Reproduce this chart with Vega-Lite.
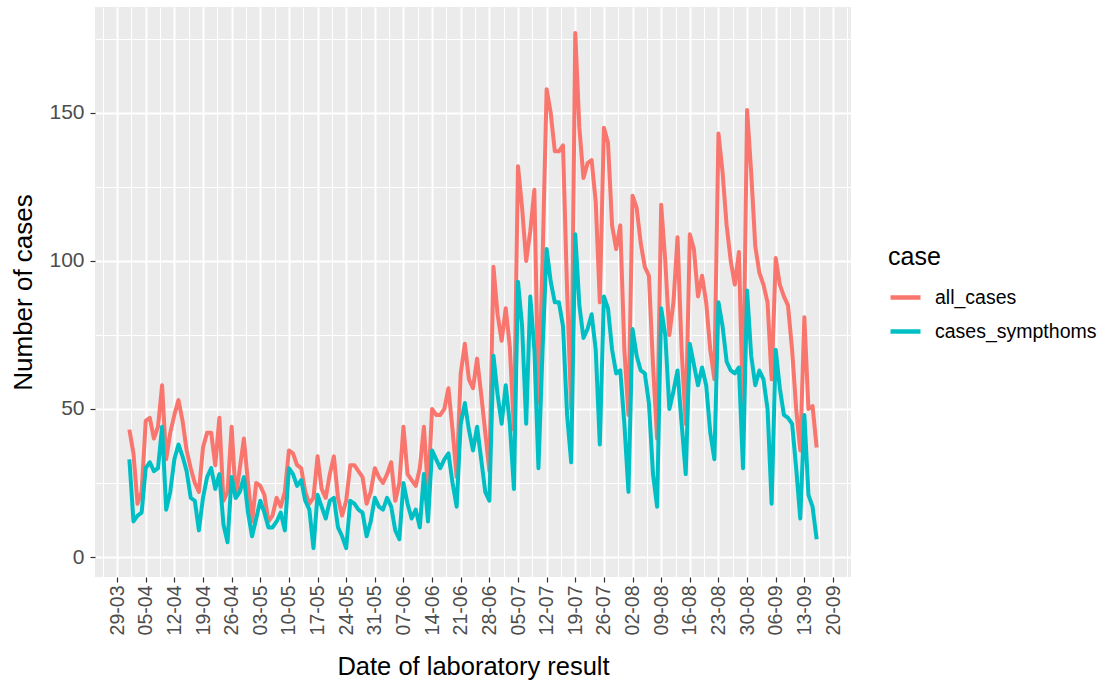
{
  "$schema": "https://vega.github.io/schema/vega-lite/v6.json",
  "width": 756,
  "height": 570,
  "autosize": "none",
  "padding": {"left": 95, "top": 7, "right": 265, "bottom": 114},
  "background": "white",
  "config": {
    "view": {"fill": "#EBEBEB", "stroke": null},
    "font": "Liberation Sans",
    "axis": {"domain": false, "gridColor": "white", "labelFont": "Liberation Sans", "titleFont": "Liberation Sans", "titleFontWeight": "normal", "titleColor": "black", "labelColor": "#4D4D4D", "tickColor": "#333333", "tickSize": 5, "tickWidth": 1.2}
  },
  "data": {"values": [
    {"date":"2020-04-01","all_cases":43,"cases_sympthoms":33},
    {"date":"2020-04-02","all_cases":35,"cases_sympthoms":12},
    {"date":"2020-04-03","all_cases":18,"cases_sympthoms":14},
    {"date":"2020-04-04","all_cases":22,"cases_sympthoms":15},
    {"date":"2020-04-05","all_cases":46,"cases_sympthoms":30},
    {"date":"2020-04-06","all_cases":47,"cases_sympthoms":32},
    {"date":"2020-04-07","all_cases":40,"cases_sympthoms":29},
    {"date":"2020-04-08","all_cases":44,"cases_sympthoms":30},
    {"date":"2020-04-09","all_cases":58,"cases_sympthoms":44},
    {"date":"2020-04-10","all_cases":33,"cases_sympthoms":16},
    {"date":"2020-04-11","all_cases":42,"cases_sympthoms":22},
    {"date":"2020-04-12","all_cases":48,"cases_sympthoms":33},
    {"date":"2020-04-13","all_cases":53,"cases_sympthoms":38},
    {"date":"2020-04-14","all_cases":46,"cases_sympthoms":34},
    {"date":"2020-04-15","all_cases":36,"cases_sympthoms":29},
    {"date":"2020-04-16","all_cases":30,"cases_sympthoms":20},
    {"date":"2020-04-17","all_cases":25,"cases_sympthoms":19},
    {"date":"2020-04-18","all_cases":22,"cases_sympthoms":9},
    {"date":"2020-04-19","all_cases":37,"cases_sympthoms":20},
    {"date":"2020-04-20","all_cases":42,"cases_sympthoms":27},
    {"date":"2020-04-21","all_cases":42,"cases_sympthoms":30},
    {"date":"2020-04-22","all_cases":31,"cases_sympthoms":23},
    {"date":"2020-04-23","all_cases":47,"cases_sympthoms":28},
    {"date":"2020-04-24","all_cases":19,"cases_sympthoms":11},
    {"date":"2020-04-25","all_cases":22,"cases_sympthoms":5},
    {"date":"2020-04-26","all_cases":44,"cases_sympthoms":27},
    {"date":"2020-04-27","all_cases":20,"cases_sympthoms":20},
    {"date":"2020-04-28","all_cases":30,"cases_sympthoms":22},
    {"date":"2020-04-29","all_cases":40,"cases_sympthoms":27},
    {"date":"2020-04-30","all_cases":25,"cases_sympthoms":15},
    {"date":"2020-05-01","all_cases":12,"cases_sympthoms":7},
    {"date":"2020-05-02","all_cases":25,"cases_sympthoms":13},
    {"date":"2020-05-03","all_cases":24,"cases_sympthoms":19},
    {"date":"2020-05-04","all_cases":21,"cases_sympthoms":15},
    {"date":"2020-05-05","all_cases":12,"cases_sympthoms":10},
    {"date":"2020-05-06","all_cases":14,"cases_sympthoms":10},
    {"date":"2020-05-07","all_cases":20,"cases_sympthoms":12},
    {"date":"2020-05-08","all_cases":17,"cases_sympthoms":15},
    {"date":"2020-05-09","all_cases":22,"cases_sympthoms":9},
    {"date":"2020-05-10","all_cases":36,"cases_sympthoms":30},
    {"date":"2020-05-11","all_cases":35,"cases_sympthoms":28},
    {"date":"2020-05-12","all_cases":31,"cases_sympthoms":24},
    {"date":"2020-05-13","all_cases":30,"cases_sympthoms":26},
    {"date":"2020-05-14","all_cases":22,"cases_sympthoms":19},
    {"date":"2020-05-15","all_cases":18,"cases_sympthoms":16},
    {"date":"2020-05-16","all_cases":20,"cases_sympthoms":3},
    {"date":"2020-05-17","all_cases":34,"cases_sympthoms":21},
    {"date":"2020-05-18","all_cases":23,"cases_sympthoms":17},
    {"date":"2020-05-19","all_cases":20,"cases_sympthoms":13},
    {"date":"2020-05-20","all_cases":28,"cases_sympthoms":19},
    {"date":"2020-05-21","all_cases":34,"cases_sympthoms":20},
    {"date":"2020-05-22","all_cases":20,"cases_sympthoms":10},
    {"date":"2020-05-23","all_cases":14,"cases_sympthoms":7},
    {"date":"2020-05-24","all_cases":19,"cases_sympthoms":3},
    {"date":"2020-05-25","all_cases":31,"cases_sympthoms":19},
    {"date":"2020-05-26","all_cases":31,"cases_sympthoms":18},
    {"date":"2020-05-27","all_cases":29,"cases_sympthoms":16},
    {"date":"2020-05-28","all_cases":27,"cases_sympthoms":15},
    {"date":"2020-05-29","all_cases":18,"cases_sympthoms":7},
    {"date":"2020-05-30","all_cases":22,"cases_sympthoms":12},
    {"date":"2020-05-31","all_cases":30,"cases_sympthoms":20},
    {"date":"2020-06-01","all_cases":27,"cases_sympthoms":17},
    {"date":"2020-06-02","all_cases":25,"cases_sympthoms":16},
    {"date":"2020-06-03","all_cases":28,"cases_sympthoms":20},
    {"date":"2020-06-04","all_cases":32,"cases_sympthoms":17},
    {"date":"2020-06-05","all_cases":19,"cases_sympthoms":9},
    {"date":"2020-06-06","all_cases":25,"cases_sympthoms":6},
    {"date":"2020-06-07","all_cases":44,"cases_sympthoms":25},
    {"date":"2020-06-08","all_cases":28,"cases_sympthoms":18},
    {"date":"2020-06-09","all_cases":26,"cases_sympthoms":13},
    {"date":"2020-06-10","all_cases":24,"cases_sympthoms":16},
    {"date":"2020-06-11","all_cases":30,"cases_sympthoms":10},
    {"date":"2020-06-12","all_cases":44,"cases_sympthoms":28},
    {"date":"2020-06-13","all_cases":22,"cases_sympthoms":12},
    {"date":"2020-06-14","all_cases":50,"cases_sympthoms":36},
    {"date":"2020-06-15","all_cases":48,"cases_sympthoms":33},
    {"date":"2020-06-16","all_cases":48,"cases_sympthoms":30},
    {"date":"2020-06-17","all_cases":50,"cases_sympthoms":33},
    {"date":"2020-06-18","all_cases":57,"cases_sympthoms":35},
    {"date":"2020-06-19","all_cases":43,"cases_sympthoms":25},
    {"date":"2020-06-20","all_cases":27,"cases_sympthoms":17},
    {"date":"2020-06-21","all_cases":62,"cases_sympthoms":45},
    {"date":"2020-06-22","all_cases":72,"cases_sympthoms":52},
    {"date":"2020-06-23","all_cases":60,"cases_sympthoms":43},
    {"date":"2020-06-24","all_cases":57,"cases_sympthoms":36},
    {"date":"2020-06-25","all_cases":67,"cases_sympthoms":44},
    {"date":"2020-06-26","all_cases":55,"cases_sympthoms":33},
    {"date":"2020-06-27","all_cases":42,"cases_sympthoms":22},
    {"date":"2020-06-28","all_cases":29,"cases_sympthoms":19},
    {"date":"2020-06-29","all_cases":98,"cases_sympthoms":68},
    {"date":"2020-06-30","all_cases":82,"cases_sympthoms":55},
    {"date":"2020-07-01","all_cases":73,"cases_sympthoms":45},
    {"date":"2020-07-02","all_cases":84,"cases_sympthoms":58},
    {"date":"2020-07-03","all_cases":71,"cases_sympthoms":45},
    {"date":"2020-07-04","all_cases":43,"cases_sympthoms":23},
    {"date":"2020-07-05","all_cases":132,"cases_sympthoms":93},
    {"date":"2020-07-06","all_cases":118,"cases_sympthoms":78},
    {"date":"2020-07-07","all_cases":100,"cases_sympthoms":45},
    {"date":"2020-07-08","all_cases":110,"cases_sympthoms":88},
    {"date":"2020-07-09","all_cases":124,"cases_sympthoms":70},
    {"date":"2020-07-10","all_cases":52,"cases_sympthoms":30},
    {"date":"2020-07-11","all_cases":100,"cases_sympthoms":70},
    {"date":"2020-07-12","all_cases":158,"cases_sympthoms":104},
    {"date":"2020-07-13","all_cases":150,"cases_sympthoms":93},
    {"date":"2020-07-14","all_cases":137,"cases_sympthoms":86},
    {"date":"2020-07-15","all_cases":137,"cases_sympthoms":86},
    {"date":"2020-07-16","all_cases":139,"cases_sympthoms":78},
    {"date":"2020-07-17","all_cases":90,"cases_sympthoms":48},
    {"date":"2020-07-18","all_cases":50,"cases_sympthoms":32},
    {"date":"2020-07-19","all_cases":177,"cases_sympthoms":109},
    {"date":"2020-07-20","all_cases":145,"cases_sympthoms":85},
    {"date":"2020-07-21","all_cases":128,"cases_sympthoms":74},
    {"date":"2020-07-22","all_cases":133,"cases_sympthoms":77},
    {"date":"2020-07-23","all_cases":134,"cases_sympthoms":82},
    {"date":"2020-07-24","all_cases":120,"cases_sympthoms":70},
    {"date":"2020-07-25","all_cases":86,"cases_sympthoms":38},
    {"date":"2020-07-26","all_cases":145,"cases_sympthoms":88},
    {"date":"2020-07-27","all_cases":140,"cases_sympthoms":84},
    {"date":"2020-07-28","all_cases":112,"cases_sympthoms":70},
    {"date":"2020-07-29","all_cases":104,"cases_sympthoms":62},
    {"date":"2020-07-30","all_cases":112,"cases_sympthoms":63},
    {"date":"2020-07-31","all_cases":70,"cases_sympthoms":45},
    {"date":"2020-08-01","all_cases":48,"cases_sympthoms":22},
    {"date":"2020-08-02","all_cases":122,"cases_sympthoms":77},
    {"date":"2020-08-03","all_cases":118,"cases_sympthoms":68},
    {"date":"2020-08-04","all_cases":106,"cases_sympthoms":63},
    {"date":"2020-08-05","all_cases":98,"cases_sympthoms":62},
    {"date":"2020-08-06","all_cases":95,"cases_sympthoms":52},
    {"date":"2020-08-07","all_cases":65,"cases_sympthoms":28},
    {"date":"2020-08-08","all_cases":40,"cases_sympthoms":17},
    {"date":"2020-08-09","all_cases":119,"cases_sympthoms":84},
    {"date":"2020-08-10","all_cases":100,"cases_sympthoms":75},
    {"date":"2020-08-11","all_cases":75,"cases_sympthoms":50},
    {"date":"2020-08-12","all_cases":86,"cases_sympthoms":56},
    {"date":"2020-08-13","all_cases":108,"cases_sympthoms":63},
    {"date":"2020-08-14","all_cases":70,"cases_sympthoms":45},
    {"date":"2020-08-15","all_cases":45,"cases_sympthoms":28},
    {"date":"2020-08-16","all_cases":109,"cases_sympthoms":72},
    {"date":"2020-08-17","all_cases":104,"cases_sympthoms":65},
    {"date":"2020-08-18","all_cases":88,"cases_sympthoms":58},
    {"date":"2020-08-19","all_cases":95,"cases_sympthoms":64},
    {"date":"2020-08-20","all_cases":86,"cases_sympthoms":58},
    {"date":"2020-08-21","all_cases":70,"cases_sympthoms":42},
    {"date":"2020-08-22","all_cases":60,"cases_sympthoms":33},
    {"date":"2020-08-23","all_cases":143,"cases_sympthoms":86},
    {"date":"2020-08-24","all_cases":130,"cases_sympthoms":78},
    {"date":"2020-08-25","all_cases":112,"cases_sympthoms":66},
    {"date":"2020-08-26","all_cases":100,"cases_sympthoms":63},
    {"date":"2020-08-27","all_cases":92,"cases_sympthoms":62},
    {"date":"2020-08-28","all_cases":103,"cases_sympthoms":64},
    {"date":"2020-08-29","all_cases":50,"cases_sympthoms":30},
    {"date":"2020-08-30","all_cases":151,"cases_sympthoms":90},
    {"date":"2020-08-31","all_cases":130,"cases_sympthoms":68},
    {"date":"2020-09-01","all_cases":105,"cases_sympthoms":58},
    {"date":"2020-09-02","all_cases":96,"cases_sympthoms":63},
    {"date":"2020-09-03","all_cases":92,"cases_sympthoms":60},
    {"date":"2020-09-04","all_cases":86,"cases_sympthoms":50},
    {"date":"2020-09-05","all_cases":60,"cases_sympthoms":18},
    {"date":"2020-09-06","all_cases":101,"cases_sympthoms":70},
    {"date":"2020-09-07","all_cases":92,"cases_sympthoms":57},
    {"date":"2020-09-08","all_cases":88,"cases_sympthoms":48},
    {"date":"2020-09-09","all_cases":85,"cases_sympthoms":47},
    {"date":"2020-09-10","all_cases":70,"cases_sympthoms":45},
    {"date":"2020-09-11","all_cases":50,"cases_sympthoms":30},
    {"date":"2020-09-12","all_cases":36,"cases_sympthoms":13},
    {"date":"2020-09-13","all_cases":81,"cases_sympthoms":48},
    {"date":"2020-09-14","all_cases":50,"cases_sympthoms":21},
    {"date":"2020-09-15","all_cases":51,"cases_sympthoms":17},
    {"date":"2020-09-16","all_cases":37,"cases_sympthoms":6}
  ]},
  "transform": [{"fold": ["all_cases", "cases_sympthoms"], "as": ["case", "n"]}],
  "mark": {"type": "line", "strokeWidth": 4, "interpolate": "linear", "strokeJoin": "round", "clip": true},
  "encoding": {
    "x": {
      "field": "date", "type": "temporal",
      "scale": {"type": "utc", "domain": [1584973440000, 1600940160000], "nice": false},
      "axis": {
        "title": "Date of laboratory result",
        "titleFontSize": 25.5,
        "titlePadding": 20,
        "labelFontSize": 19.5,
        "labelAngle": -90,
        "labelAlign": "right",
        "labelBaseline": "middle",
        "labelPadding": 3,
        "labelOverlap": false,
        "labelFlush": false,
        "values": [1585440000000,1586044800000,1586649600000,1587254400000,1587859200000,1588464000000,1589068800000,1589673600000,1590278400000,1590883200000,1591488000000,1592092800000,1592697600000,1593302400000,1593907200000,1594512000000,1595116800000,1595721600000,1596326400000,1596931200000,1597536000000,1598140800000,1598745600000,1599350400000,1599955200000,1600560000000,1585137600000,1585742400000,1586347200000,1586952000000,1587556800000,1588161600000,1588766400000,1589371200000,1589976000000,1590580800000,1591185600000,1591790400000,1592395200000,1593000000000,1593604800000,1594209600000,1594814400000,1595419200000,1596024000000,1596628800000,1597233600000,1597838400000,1598443200000,1599048000000,1599652800000,1600257600000,1600862400000],
        "labelExpr": "(datum.value - 1585440000000) % 604800000 === 0 ? utcFormat(datum.value, '%d-%m') : ''",
        "tickOpacity": {"condition": {"test": "(datum.value - 1585440000000) % 604800000 !== 0", "value": 0}, "value": 1},
        "gridWidth": {"condition": {"test": "(datum.value - 1585440000000) % 604800000 !== 0", "value": 1}, "value": 2}
      }
    },
    "y": {
      "field": "n", "type": "quantitative",
      "scale": {"domain": [-6.75, 185.75], "nice": false, "zero": false},
      "axis": {
        "title": "Number of cases",
        "titleFontSize": 26,
        "titlePadding": 12,
        "labelFontSize": 21,
        "labelPadding": 6,
        "values": [0, 25, 50, 75, 100, 125, 150, 175],
        "labelExpr": "datum.value % 50 === 0 ? datum.label : ''",
        "tickOpacity": {"condition": {"test": "datum.value % 50 !== 0", "value": 0}, "value": 1},
        "gridWidth": {"condition": {"test": "datum.value % 50 !== 0", "value": 1}, "value": 2}
      }
    },
    "color": {
      "field": "case", "type": "nominal",
      "scale": {"domain": ["all_cases", "cases_sympthoms"], "range": ["#F8766D", "#00BFC4"]},
      "legend": {
        "title": "case",
        "orient": "none",
        "legendX": 793,
        "legendY": 238,
        "titleFontSize": 25,
        "titleFontWeight": "normal",
        "titleColor": "black",
        "titlePadding": 10,
        "labelFontSize": 19.5,
        "labelLimit": 400,
        "labelColor": "black",
        "labelOffset": 12,
        "symbolType": "stroke",
        "symbolSize": 900,
        "symbolStrokeWidth": 4.5,
        "rowPadding": 7
      }
    }
  }
}
